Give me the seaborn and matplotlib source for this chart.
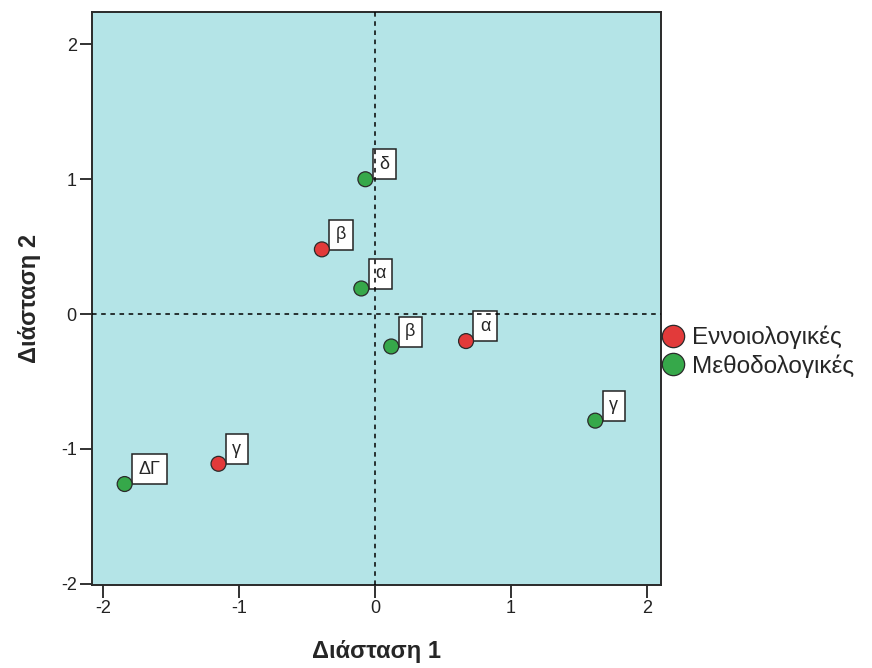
import matplotlib
matplotlib.use("Agg")
import matplotlib.pyplot as plt
import seaborn as sns
import pandas as pd

# Object points on the two dimensions
labels = ["δ", "β", "α", "β", "α", "γ", "γ", "ΔΓ"]
dim1 = [-0.07, -0.39, -0.10, 0.12, 0.67, 1.62, -1.15, -1.84]
dim2 = [1.00, 0.48, 0.19, -0.24, -0.20, -0.79, -1.11, -1.26]
groups = ["Μεθοδολογικές", "Εννοιολογικές", "Μεθοδολογικές", "Μεθοδολογικές",
          "Εννοιολογικές", "Μεθοδολογικές", "Εννοιολογικές", "Μεθοδολογικές"]
group_order = ["Εννοιολογικές", "Μεθοδολογικές"]
group_colors = ["#e23a3a", "#36a84a"]

xticks = [-2, -1, 0, 1, 2]
yticks = [-2, -1, 0, 1, 2]

df = pd.DataFrame({"Διάσταση 1": dim1, "Διάσταση 2": dim2,
                   "group": groups, "label": labels})

sns.set_style("ticks")
plt.rcParams["font.family"] = ["Liberation Sans", "DejaVu Sans"]
plt.rcParams["axes.unicode_minus"] = False

fig = plt.figure(figsize=(8.72, 6.68), dpi=100)
ax = fig.add_axes([0.1055, 0.124, 0.652, 0.858])
ax.set_facecolor("#b4e4e7")

sns.scatterplot(data=df, x="Διάσταση 1", y="Διάσταση 2", hue="group",
                hue_order=group_order, palette=group_colors, s=115,
                edgecolor="#2a2a2a", linewidth=0.9, ax=ax, zorder=4)

# Point labels in white boxes
for _, r in df.iterrows():
    ax.annotate(r["label"], (r["Διάσταση 1"], r["Διάσταση 2"]),
                xytext=(10, 4.5), textcoords="offset points",
                ha="left", va="bottom", fontsize=13, zorder=2,
                bbox=dict(boxstyle="square,pad=0.36", fc="white",
                          ec="#222222", lw=1.1))

# Reference lines through the origin
ax.axhline(0, color="black", ls=(0, (3, 3)), lw=1.1, zorder=3)
ax.axvline(0, color="black", ls=(0, (3, 3)), lw=1.1, zorder=3)

ax.set_xlim(-2.08, 2.1)
ax.set_ylim(-2.01, 2.24)
ax.set_xticks(xticks)
ax.set_yticks(yticks)
ax.tick_params(direction="out", length=9, width=1.3, pad=2, labelsize=13,
               colors="#222222", labelcolor="#222222")
for sp in ax.spines.values():
    sp.set_visible(True)
    sp.set_color("#2a2a2a")
    sp.set_linewidth(1.4)

ax.set_xlabel("Διάσταση 1", fontsize=17, fontweight="bold", labelpad=16)
ax.set_ylabel("Διάσταση 2", fontsize=17, fontweight="bold", labelpad=14)

handles, lbls = ax.get_legend_handles_labels()
leg = ax.legend(handles=handles, labels=lbls, loc="center left",
                bbox_to_anchor=(1.0, 0.407), frameon=False, fontsize=17.5,
                handletextpad=0.3, labelspacing=0.2, markerscale=1.5,
                borderaxespad=0.0, borderpad=0.0, handlelength=1.0)

fig.savefig("out.png", dpi=100)
